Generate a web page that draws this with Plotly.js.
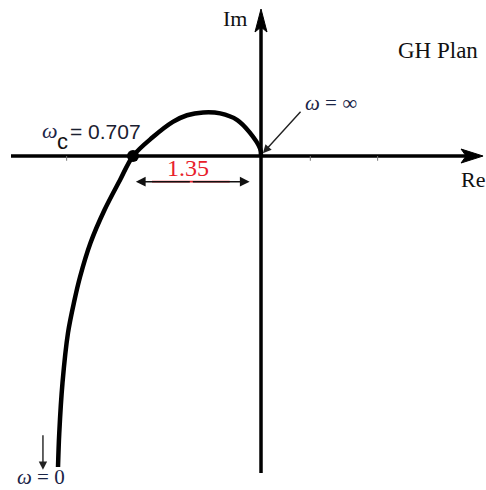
<!DOCTYPE html>
<html>
<head>
<meta charset="utf-8">
<script src="https://cdn.plot.ly/plotly-3.0.1.min.js"></script>
<style>
  html, body { margin: 0; padding: 0; background: #fff; }
  #plot { width: 486px; height: 490px; }
</style>
</head>
<body>
<div id="plot"></div>
<script>
// Nyquist locus of GH(jw), traced from w = 0 (bottom) to w = infinity (origin)
const locusRe = [-2.141, -2.128, -2.094, -2.036, -1.967, -1.909, -1.799, -1.651, -1.487, -1.35,
                 -1.14, -0.93, -0.78, -0.61, -0.43, -0.25, -0.12, -0.01, 0];
const locusIm = [-3.281, -2.922, -2.395, -1.867, -1.519, -1.276, -0.918, -0.570, -0.253, 0,
                  0.20, 0.36, 0.43, 0.46, 0.45, 0.38, 0.25, 0.08, 0];

// Real-axis crossing (phase crossover)
const crossRe = [-1.35];
const crossIm = [0];
const omegaC = 0.707;

// Axis extents and the small marks on the real axis
const reAxis = [-2.637, 2.342];
const imAxis = [-3.344, 1.551];
const reTicks = [-2.05, 0.52, 1.23];

const serif = "Liberation Serif, Times New Roman, serif";
const sans = "Liberation Sans, Arial, sans-serif";
const ink = "#111111";
const omegaInk = "#1b2547";

// place text by pixel position within the 486x490 figure
const W = 486, H = 490;
function txt(px, py, text, size, opts) {
  return Object.assign({
    xref: "paper", yref: "paper",
    x: px / W, y: 1 - py / H,
    xanchor: "center", yanchor: "middle",
    text: text, showarrow: false,
    font: { family: serif, size: size, color: ink }
  }, opts || {});
}

const traces = [
  {
    x: locusRe, y: locusIm, type: "scatter", mode: "lines",
    line: { color: "#000", width: 4.5, shape: "spline", smoothing: 1.0 },
    hoverinfo: "skip"
  },
  {
    x: crossRe, y: crossIm, type: "scatter", mode: "markers",
    marker: { color: "#000", size: 12 },
    hoverinfo: "skip"
  }
];

const dimY = -0.27;   // level of the dimension arrow under the real axis
const dimMid = crossRe[0] / 2 - 0.06;

const shapes = [
  // real axis
  { type: "line", layer: "below", xref: "x", yref: "y",
    x0: reAxis[0], x1: reAxis[1] - 0.12, y0: 0, y1: 0,
    line: { color: "#000", width: 3.5 } },
  { type: "path", layer: "below", xref: "x", yref: "y",
    xsizemode: "pixel", ysizemode: "pixel", xanchor: reAxis[1], yanchor: 0,
    path: "M0,0 L-22,7 L-17,0 L-22,-7 Z",
    fillcolor: "#000", line: { color: "#000", width: 1 } },
  // imaginary axis
  { type: "line", layer: "below", xref: "x", yref: "y",
    x0: 0, x1: 0, y0: imAxis[0], y1: imAxis[1] - 0.12,
    line: { color: "#000", width: 3.5 } },
  { type: "path", layer: "below", xref: "x", yref: "y",
    xsizemode: "pixel", ysizemode: "pixel", xanchor: 0, yanchor: imAxis[1],
    path: "M0,0 L-6,-23 L0,-18 L6,-23 Z",
    fillcolor: "#000", line: { color: "#000", width: 1 } },
  // red shaft of the 1.35 dimension arrow
  { type: "line", xref: "x", yref: "y",
    x0: crossRe[0] + 0.2, x1: -0.33, y0: dimY, y1: dimY,
    line: { color: "#e8202a", width: 1.6 } }
].concat(reTicks.map(function (t) {
  return { type: "line", layer: "below", xref: "x", yref: "y",
    x0: t, x1: t, y0: 0, y1: -0.05,
    line: { color: "#777", width: 1 } };
}));

const annotations = [
  txt(235, 18, "Im", 22),
  txt(473, 180, "Re", 22),
  txt(438, 50, "GH Plan", 23),
  txt(331, 103, "<i>ω</i> = ∞", 21, { font: { family: serif, size: 21, color: omegaInk } }),
  // arrow pointing at w = infinity (origin)
  { xref: "x", yref: "y", x: 0.02, y: 0.03, ax: 39, ay: -43, text: "",
    showarrow: true, arrowhead: 2, arrowsize: 1.2, arrowwidth: 1.4, arrowcolor: "#222" },
  // crossover label
  txt(50, 130, "<i>ω</i>", 22, { font: { family: serif, size: 22, color: omegaInk } }),
  txt(62, 141, "c", 22, { font: { family: sans, size: 22, color: ink } }),
  txt(105, 131, "= " + omegaC.toFixed(3), 21, { font: { family: sans, size: 21, color: "#1b2030" } }),
  // 1.35 dimension arrow
  { xref: "x", yref: "y", x: crossRe[0] + 0.03, y: dimY, ax: dimMid, ay: dimY,
    axref: "x", ayref: "y", text: "", showarrow: true,
    arrowhead: 2, arrowsize: 1.3, arrowwidth: 1.5, arrowcolor: "#111" },
  { xref: "x", yref: "y", x: -0.12, y: dimY, ax: dimMid, ay: dimY,
    axref: "x", ayref: "y", text: "", showarrow: true,
    arrowhead: 2, arrowsize: 1.3, arrowwidth: 1.5, arrowcolor: "#111" },
  txt(188, 168, Math.abs(crossRe[0]).toFixed(2), 24, { font: { family: serif, size: 24, color: "#e8202a" } }),
  // w = 0 end
  { xref: "x", yref: "y", x: -2.30, y: -3.31, ax: 0, ay: -36, text: "",
    showarrow: true, arrowhead: 2, arrowsize: 1.2, arrowwidth: 1.4, arrowcolor: "#222" },
  txt(41, 477, "<i>ω</i> = 0", 21, { font: { family: serif, size: 21, color: omegaInk } })
];

const layout = {
  width: W, height: H,
  margin: { l: 0, r: 0, t: 0, b: 0, pad: 0 },
  paper_bgcolor: "#fff", plot_bgcolor: "#fff",
  showlegend: false,
  xaxis: { range: [-2.753, 2.373], visible: false, fixedrange: true },
  yaxis: { range: [-3.523, 1.646], visible: false, fixedrange: true },
  shapes: shapes,
  annotations: annotations
};

Plotly.newPlot("plot", traces, layout, { displayModeBar: false, staticPlot: true });
</script>
</body>
</html>
